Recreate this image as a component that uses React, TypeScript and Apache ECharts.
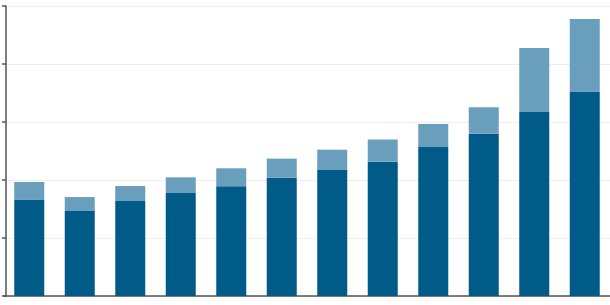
import React, { useEffect, useRef } from "react";
import * as echarts from "echarts";

const categories = ["1", "2", "3", "4", "5", "6", "7", "8", "9", "10", "11", "12"];
const baseValues = [82.8, 73.3, 81.9, 88.8, 94.6, 102.0, 108.6, 115.8, 128.4, 139.9, 158.6, 176.4];
const topValues = [15.5, 12.0, 12.9, 13.5, 15.5, 16.4, 17.5, 19.1, 19.9, 22.8, 55.2, 62.4];

export default function App() {
  const ref = useRef<HTMLDivElement>(null);
  useEffect(() => {
    if (!ref.current) return;
    const chart = echarts.init(ref.current, null, { renderer: "svg" });
    chart.setOption({
      animation: false,
      backgroundColor: "#ffffff",
      grid: { left: 4, right: 0, top: 6, bottom: 9, containLabel: false },
      xAxis: {
        type: "category",
        data: categories,
        offset: 1.5,
        axisLine: { show: true, lineStyle: { color: "#555", width: 1.5 } },
        axisTick: { show: false },
        axisLabel: { show: false },
      },
      yAxis: {
        type: "value",
        min: 0,
        max: 250,
        interval: 50,
        offset: -2,
        axisLine: { show: true, lineStyle: { color: "#555", width: 1.5 } },
        axisTick: { show: true, length: 4, lineStyle: { color: "#555", width: 1.5 } },
        axisLabel: { show: false },
        splitLine: { show: true, lineStyle: { color: "#eeeeee", width: 1 } },
      },
      series: [
        {
          type: "bar",
          stack: "s",
          data: baseValues,
          barWidth: 30,
          itemStyle: { color: "#005b88" },
        },
        {
          type: "bar",
          stack: "s",
          data: topValues,
          barWidth: 30,
          itemStyle: { color: "#6a9ebd" },
        },
      ],
    });
    return () => chart.dispose();
  }, []);
  return <div ref={ref} style={{ width: 610, height: 305, position: "absolute", left: 0, top: 0 }} />;
}
